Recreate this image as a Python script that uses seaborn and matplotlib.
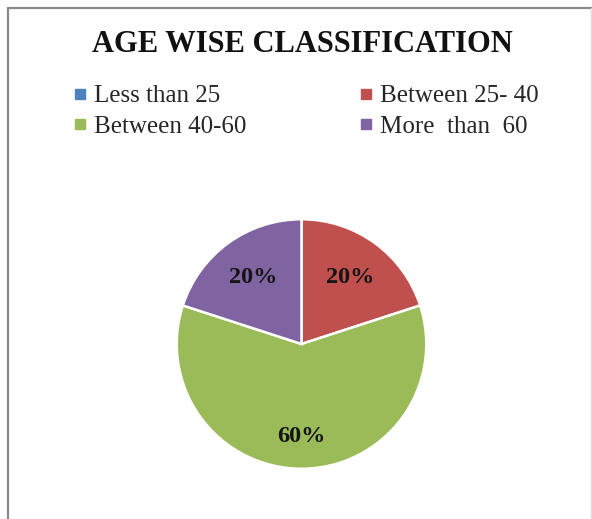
import matplotlib
matplotlib.use("Agg")
import numpy as np
import matplotlib.pyplot as plt
from matplotlib.lines import Line2D
import seaborn as sns

# Age-group breakdown
categories = ["Less than 25", "Between 25- 40", "Between 40-60", "More  than  60"]
shares = [0, 20, 60, 20]
colors = ["#4F81BD", "#C0504D", "#9BBB59", "#8064A2"]

sns.set_theme(style="white")
plt.rcParams["font.family"] = ["Liberation Serif", "DejaVu Serif"]

W, H = 592, 519
fig = plt.figure(figsize=(W / 100, H / 100), dpi=100)
fig.patch.set_facecolor("white")

# frame lines around the chart area
fig.add_artist(Line2D([8 / W, 8 / W], [0, 1 - 8 / H], transform=fig.transFigure,
                      color="#8a8a8a", lw=1.6))
fig.add_artist(Line2D([8 / W, 1], [1 - 8 / H, 1 - 8 / H], transform=fig.transFigure,
                      color="#8a8a8a", lw=1.6))
fig.add_artist(Line2D([590.5 / W, 590.5 / W], [0, 1 - 8 / H], transform=fig.transFigure,
                      color="#dddddd", lw=1.0))

# pie axes: centre (301.5, 344) px, radius 126 px
cx, cy, r = 301.5, 344, 126
ax = fig.add_axes([(cx - r) / W, (H - cy - r) / H, 2 * r / W, 2 * r / H])

wedges, texts, autotexts = ax.pie(
    shares,
    colors=colors,
    startangle=90,
    counterclock=False,
    radius=1,
    autopct=lambda p: f"{p:.0f}%" if p > 0 else "",
    pctdistance=0.68,
    wedgeprops=dict(edgecolor="white", linewidth=1.8),
    textprops=dict(fontsize=17.5, fontweight="bold", color="#141414"),
)

# place the percentage labels a bit further out on the large slice
for w, t, s in zip(wedges, autotexts, shares):
    if s <= 0:
        continue
    mid = np.deg2rad((w.theta1 + w.theta2) / 2)
    dist = 0.74 if s >= 50 else 0.66
    t.set_position((dist * np.cos(mid), dist * np.sin(mid)))

ax.set_xlim(-1.01, 1.01)
ax.set_ylim(-1.01, 1.01)
ax.axis("off")

fig.text(302 / W, 1 - 45 / H, "AGE WISE CLASSIFICATION", ha="center", va="center",
         fontsize=22, fontweight="bold", color="#111111")

# legend entries laid out row by row in two columns
order = [0, 2, 1, 3]
handles = [Line2D([], [], marker="s", linestyle="none", markersize=7,
                  markerfacecolor=colors[i], markeredgecolor=colors[i]) for i in order]
labels = [categories[i] for i in order]
fig.legend(handles, labels, ncol=2, loc="upper left",
           bbox_to_anchor=(74 / W, 1 - 85 / H), frameon=False,
           fontsize=18, handlelength=0.5, handletextpad=0.3,
           columnspacing=4.55, labelspacing=0.33, borderpad=0, borderaxespad=0)

fig.savefig("out.png", dpi=100, facecolor="white")
